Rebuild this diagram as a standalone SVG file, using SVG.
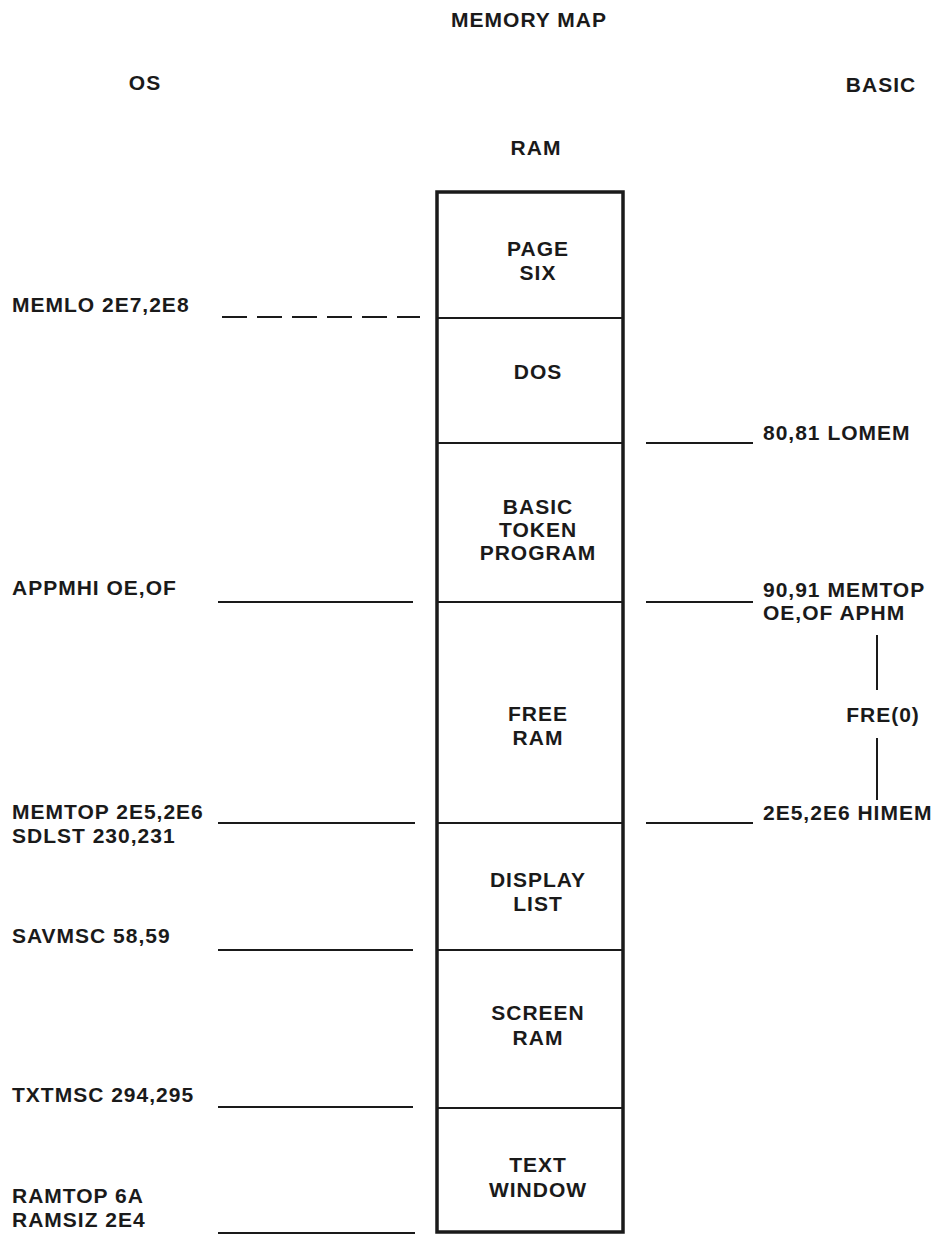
<svg xmlns="http://www.w3.org/2000/svg" width="937" height="1235" viewBox="0 0 937 1235">
<style>
text{font-family:"Liberation Sans",Arial,sans-serif;font-weight:bold;font-size:21px;letter-spacing:1px;fill:#1a1a1a}
.c{text-anchor:middle}
.ln{stroke:#1a1a1a;stroke-width:2;fill:none}
.dv{stroke:#1a1a1a;stroke-width:2;fill:none}
.box{stroke:#1a1a1a;stroke-width:3.5;fill:none}
.dash{stroke:#1a1a1a;stroke-width:2;fill:none;stroke-dasharray:25 10}
</style>
<rect width="937" height="1235" fill="#fff"/>
<g id="headings">
<text class="c" x="529" y="27">MEMORY MAP</text>
<text class="c" x="145" y="90">OS</text>
<text class="c" x="881" y="92">BASIC</text>
<text class="c" x="536" y="155">RAM</text>
</g>
<g id="ram-column">
<rect class="box" x="437" y="192" width="186" height="1040"/>
</g>
<g id="page-six">
<text class="c" x="538" y="256">PAGE</text>
<text class="c" x="538" y="280">SIX</text>
</g>
<g id="dos">
<text class="c" x="538" y="379">DOS</text>
</g>
<g id="basic-token-program">
<text class="c" x="538" y="514">BASIC</text>
<text class="c" x="538" y="537">TOKEN</text>
<text class="c" x="538" y="560">PROGRAM</text>
</g>
<g id="free-ram">
<text class="c" x="538" y="721">FREE</text>
<text class="c" x="538" y="745">RAM</text>
</g>
<g id="display-list">
<text class="c" x="538" y="887">DISPLAY</text>
<text class="c" x="538" y="911">LIST</text>
</g>
<g id="screen-ram">
<text class="c" x="538" y="1020">SCREEN</text>
<text class="c" x="538" y="1045">RAM</text>
</g>
<g id="text-window">
<text class="c" x="538" y="1172">TEXT</text>
<text class="c" x="538" y="1197">WINDOW</text>
</g>
<g id="os-labels">
<text x="12" y="312">MEMLO 2E7,2E8</text>
<text x="12" y="595">APPMHI OE,OF</text>
<text x="12" y="819">MEMTOP 2E5,2E6</text>
<text x="12" y="843">SDLST 230,231</text>
<text x="12" y="943">SAVMSC 58,59</text>
<text x="12" y="1102">TXTMSC 294,295</text>
<text x="12" y="1203">RAMTOP 6A</text>
<text x="12" y="1227">RAMSIZ 2E4</text>
</g>
<g id="basic-labels">
<text x="763" y="440">80,81 LOMEM</text>
<text x="763" y="597">90,91 MEMTOP</text>
<text x="763" y="620">OE,OF APHM</text>
<text class="c" x="883" y="722">FRE(0)</text>
<text x="763" y="820">2E5,2E6 HIMEM</text>
</g>
<g id="connectors">
<line class="dv" x1="437" y1="318" x2="623" y2="318"/>
<line class="dv" x1="437" y1="443" x2="623" y2="443"/>
<line class="dv" x1="437" y1="602" x2="623" y2="602"/>
<line class="dv" x1="437" y1="823" x2="623" y2="823"/>
<line class="dv" x1="437" y1="950" x2="623" y2="950"/>
<line class="dv" x1="437" y1="1108" x2="623" y2="1108"/>
<line class="dash" x1="222" y1="317" x2="420" y2="317"/>
<line class="ln" x1="218" y1="602" x2="413" y2="602"/>
<line class="ln" x1="218" y1="823" x2="415" y2="823"/>
<line class="ln" x1="218" y1="950" x2="413" y2="950"/>
<line class="ln" x1="218" y1="1107" x2="413" y2="1107"/>
<line class="ln" x1="218" y1="1233" x2="415" y2="1233"/>
<line class="ln" x1="646" y1="443" x2="753" y2="443"/>
<line class="ln" x1="646" y1="602" x2="753" y2="602"/>
<line class="ln" x1="646" y1="823" x2="753" y2="823"/>
<line class="ln" x1="877" y1="635" x2="877" y2="690"/>
<line class="ln" x1="877" y1="738" x2="877" y2="800"/>
</g>
</svg>
